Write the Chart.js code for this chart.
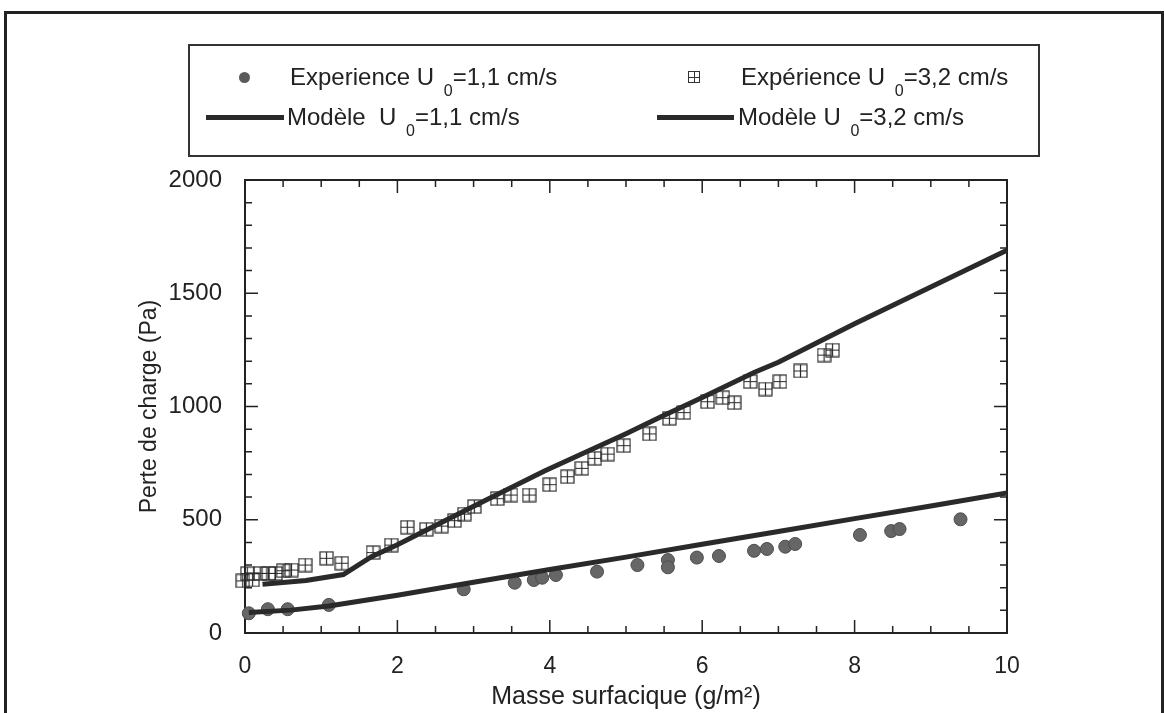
<!DOCTYPE html>
<html>
<head>
<meta charset="utf-8">
<script src="https://cdn.jsdelivr.net/npm/chart.js@4"></script>
<style>
  html, body { margin: 0; padding: 0; background: #fff; }
  #page { position: relative; width: 1164px; height: 713px; overflow: hidden; font-family: "Liberation Sans", Arial, sans-serif; color: #222; }
  #frame { position: absolute; left: 4px; top: 11px; width: 1154px; height: 720px; border: 3px solid #222; }
  #legend { position: absolute; left: 188px; top: 44px; width: 848px; height: 109px; border: 2px solid #333; }
  .item { position: absolute; font-size: 24px; line-height: 26px; white-space: nowrap; }
  .item sub { font-size: 16px; vertical-align: -11px; margin-left: 3px; }
  .dot { position: absolute; width: 11px; height: 11px; border-radius: 50%; background: #5a5a5a; }
  .sq { position: absolute; width: 10px; height: 10px; border: 1px solid #333; }
  .sq::before { content: ""; position: absolute; left: 5px; top: 0; width: 1px; height: 10px; background: #333; }
  .sq::after { content: ""; position: absolute; left: 0; top: 5px; width: 10px; height: 1px; background: #333; }
  .bar { position: absolute; height: 5px; background: #2a2a2a; }
  canvas { position: absolute; left: 0; top: 0; }
</style>
</head>
<body>
<div id="page">
  <div id="frame"></div>
  <canvas id="chart" width="1164" height="713"></canvas>
  <div id="legend">
    <div class="dot" style="left:49px; top:26px"></div>
    <div class="item" style="left:100px; top:18px">Experience U <sub>0</sub>=1,1 cm/s</div>
    <div class="sq" style="left:498px; top:25px"></div>
    <div class="item" style="left:551px; top:18px">Expérience U <sub>0</sub>=3,2 cm/s</div>
    <div class="bar" style="left:16px; width:78px; top:69px"></div>
    <div class="item" style="left:97px; top:58px">Modèle&nbsp; U <sub>0</sub>=1,1 cm/s</div>
    <div class="bar" style="left:467px; width:77px; top:69px"></div>
    <div class="item" style="left:548px; top:58px">Modèle U <sub>0</sub>=3,2 cm/s</div>
  </div>
</div>
<script>
// Expérience U0 = 1,1 cm/s
const exp11X = [0.05, 0.30, 0.56, 1.10, 2.87, 3.54, 3.79, 3.90, 4.08, 4.62, 5.15, 5.55, 5.55, 5.93, 6.22, 6.68, 6.85, 7.09, 7.22, 8.07, 8.48, 8.59, 9.39];
const exp11Y = [87, 105, 105, 124, 193, 222, 234, 244, 256, 271, 300, 322, 290, 333, 340, 363, 371, 381, 393, 433, 450, 459, 502];

// Expérience U0 = 3,2 cm/s
const exp32X = [-0.03, 0.10, 0.03, 0.20, 0.31, 0.40, 0.50, 0.61, 0.79, 1.07, 1.27, 1.68, 1.92, 2.13, 2.38, 2.58, 2.75, 2.88, 3.01, 3.31, 3.49, 3.73, 4.00, 4.23, 4.42, 4.59, 4.76, 4.97, 5.31, 5.57, 5.76, 6.07, 6.27, 6.42, 6.63, 6.83, 7.02, 7.29, 7.60, 7.71];
const exp32Y = [230, 234, 262, 263, 263, 263, 275, 278, 300, 330, 308, 355, 388, 467, 458, 472, 496, 525, 558, 593, 609, 609, 655, 690, 727, 771, 790, 827, 879, 948, 973, 1021, 1039, 1017, 1110, 1077, 1110, 1157, 1227, 1249];

// Modèles
const mod11X = [0.05, 0.6, 1.1, 2, 3, 4, 5, 6, 7, 8, 9, 10];
const mod11Y = [90, 101, 119, 167, 224, 280, 335, 392, 448, 505, 561, 618];
const mod32X = [0.23, 0.8, 1.29, 1.66, 2, 3, 3.93, 5, 5.46, 6, 6.68, 7, 8, 9, 10];
const mod32Y = [215, 232, 258, 337, 390, 560, 715, 880, 955, 1040, 1150, 1195, 1365, 1528, 1690];

const xTicks = [0, 2, 4, 6, 8, 10];
const yTicks = [0, 500, 1000, 1500, 2000];

const pts = (xs, ys) => xs.map((x, i) => ({ x, y: ys[i] }));

// square with cross marker
function crossSquare(size) {
  const c = document.createElement('canvas');
  c.width = size; c.height = size;
  const g = c.getContext('2d');
  g.strokeStyle = '#2a2a2a';
  g.lineWidth = 1.2;
  g.strokeRect(1, 1, size - 2, size - 2);
  g.beginPath();
  g.moveTo(size / 2, 1); g.lineTo(size / 2, size - 1);
  g.moveTo(1, size / 2); g.lineTo(size - 1, size / 2);
  g.stroke();
  return c;
}

// frame + inward ticks on all four sides
const frameTicks = {
  id: 'frameTicks',
  beforeDatasetsDraw(chart) {
    const { ctx, chartArea: a, scales: { x, y } } = chart;
    ctx.save();
    ctx.strokeStyle = '#222';
    ctx.lineWidth = 2;
    ctx.strokeRect(a.left, a.top, a.right - a.left, a.bottom - a.top);
    ctx.lineWidth = 1.5;
    ctx.beginPath();
    for (let v = 0; v <= 10.001; v += 0.5) {
      const px = x.getPixelForValue(v);
      const len = Math.abs(v % 2) < 0.001 ? 13 : 7;
      ctx.moveTo(px, a.bottom); ctx.lineTo(px, a.bottom - len);
      ctx.moveTo(px, a.top); ctx.lineTo(px, a.top + len);
    }
    for (let v = 0; v <= 2000; v += 100) {
      const py = y.getPixelForValue(v);
      const len = v % 500 === 0 ? 13 : 7;
      ctx.moveTo(a.left, py); ctx.lineTo(a.left + len, py);
      ctx.moveTo(a.right, py); ctx.lineTo(a.right - len, py);
    }
    ctx.stroke();
    ctx.restore();
  }
};

new Chart(document.getElementById('chart'), {
  type: 'scatter',
  data: {
    datasets: [
      {
        label: 'Modèle U0=1,1 cm/s',
        data: pts(mod11X, mod11Y),
        showLine: true,
        borderColor: '#2a2a2a',
        borderWidth: 5,
        pointRadius: 0,
        tension: 0,
      },
      {
        label: 'Modèle U0=3,2 cm/s',
        data: pts(mod32X, mod32Y),
        showLine: true,
        borderColor: '#2a2a2a',
        borderWidth: 5,
        pointRadius: 0,
        tension: 0,
      },
      {
        label: 'Experience U0=1,1 cm/s',
        data: pts(exp11X, exp11Y),
        pointRadius: 6.5,
        backgroundColor: '#666',
        borderColor: '#4d4d4d',
        borderWidth: 1,
        clip: false,
      },
      {
        label: 'Expérience U0=3,2 cm/s',
        data: pts(exp32X, exp32Y),
        pointStyle: crossSquare(15),
        pointRadius: 7.5,
        clip: false,
      },
    ],
  },
  options: {
    responsive: false,
    animation: false,
    layout: { padding: { left: 130, top: 180, right: 157, bottom: 0 } },
    plugins: { legend: { display: false }, tooltip: { enabled: false } },
    scales: {
      x: {
        type: 'linear',
        min: 0, max: 10,
        afterBuildTicks: s => { s.ticks = xTicks.map(v => ({ value: v })); },
        afterFit: s => { s.height = 80; },
        grid: { display: false, drawTicks: false },
        border: { display: false },
        ticks: { color: '#222', font: { size: 23, family: 'Liberation Sans' }, padding: 20, callback: v => String(v) },
        title: {
          display: true,
          text: 'Masse surfacique (g/m²)',
          color: '#222',
          font: { size: 25, family: 'Liberation Sans' },
          padding: { top: 0, bottom: 1 },
        },
      },
      y: {
        type: 'linear',
        min: 0, max: 2000,
        afterBuildTicks: s => { s.ticks = yTicks.map(v => ({ value: v })); },
        afterFit: s => { s.width = 115; },
        grid: { display: false, drawTicks: false },
        border: { display: false },
        ticks: { color: '#222', font: { size: 24, family: 'Liberation Sans' }, padding: 23, callback: v => String(v) },
        title: {
          display: true,
          text: 'Perte de charge (Pa)',
          color: '#222',
          font: { size: 23, family: 'Liberation Sans' },
          padding: { top: 6, bottom: 0 },
        },
      },
    },
  },
  plugins: [frameTicks],
});
</script>
</body>
</html>
